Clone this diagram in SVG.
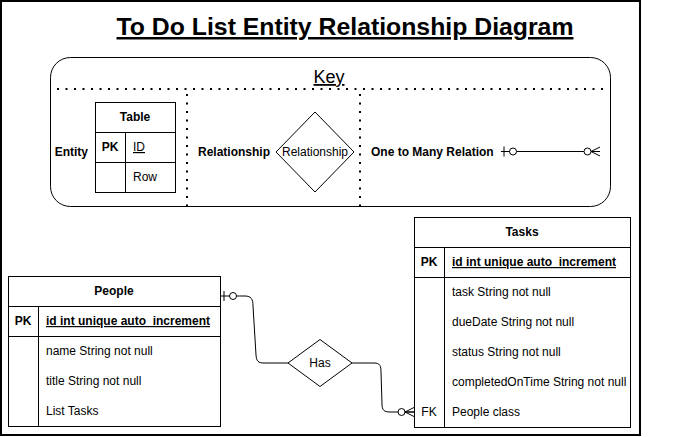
<svg xmlns="http://www.w3.org/2000/svg" width="681" height="437" viewBox="0 0 681 437">
<style>
text{font-family:"Liberation Sans",Arial,sans-serif;font-size:12px;fill:#000}
.b{font-weight:bold}
.u{text-decoration:underline}
.m{text-anchor:middle}
.e{text-anchor:end}
.box{fill:#fff;stroke:#000;stroke-width:1}
.ln{fill:none;stroke:#000;stroke-width:1}
.dot{fill:none;stroke:#000;stroke-width:2;stroke-dasharray:2 6.5}
.edge{fill:none;stroke:#000;stroke-width:1}
</style>
<defs>
<marker id="zeroOne" markerUnits="userSpaceOnUse" refX="0" refY="0" markerWidth="20" markerHeight="20" orient="auto" overflow="visible">
<path d="M3,-5 V5" stroke="#000" stroke-width="1" fill="none"/>
<circle cx="12" cy="0" r="3.5" fill="#fff" stroke="#000" stroke-width="1"/>
</marker>
<marker id="zeroMany" markerUnits="userSpaceOnUse" refX="0" refY="0" markerWidth="20" markerHeight="20" orient="auto" overflow="visible">
<path d="M-9,0 L0,-4.5 M-9,0 L0,0 M-9,0 L0,4.5" stroke="#000" stroke-width="1" fill="none"/>
<circle cx="-12.5" cy="0" r="3.5" fill="#fff" stroke="#000" stroke-width="1"/>
</marker>
</defs>
<rect x="1" y="1" width="639" height="434" fill="#fff" stroke="#000" stroke-width="2"/>
<g id="title">
<text x="345" y="35" class="b u m" style="font-size:24.8px">To Do List Entity Relationship Diagram</text>
</g>
<g id="key">
<rect x="50.5" y="57.5" width="560" height="149" rx="20" ry="20" class="box"/>
<text x="329" y="83" class="u m" style="font-size:18px">Key</text>
<path d="M57,89 H606" class="dot"/>
<path d="M187,94 V206" class="dot"/>
<path d="M360,94 V206" class="dot"/>
<text x="88" y="156" class="b e">Entity</text>
<g id="key-table">
<rect x="95.5" y="102.5" width="80" height="90" class="box"/>
<path d="M95.5,132.5 H175.5 M95.5,162.5 H175.5 M125.5,132.5 V192.5" class="ln"/>
<text x="135" y="121" class="b m">Table</text>
<text x="110" y="151" class="b m">PK</text>
<text x="133" y="151" class="u">ID</text>
<text x="133" y="181">Row</text>
</g>
<text x="198" y="156" class="b">Relationship</text>
<g id="key-relationship">
<polygon points="276,152 315,112 354,152 315,192" class="box"/>
<text x="315" y="156" class="m">Relationship</text>
</g>
<text x="371" y="156" class="b">One to Many Relation</text>
<path d="M501,151.5 H600" class="edge" marker-start="url(#zeroOne)" marker-end="url(#zeroMany)"/>
</g>
<g id="people">
<rect x="8.5" y="276.5" width="212" height="150" class="box"/>
<path d="M8.5,306.5 H220.5 M8.5,336.5 H220.5 M38.5,306.5 V426.5" class="ln"/>
<text x="114" y="295" class="b m">People</text>
<text x="23" y="325" class="b m">PK</text>
<text x="46" y="325" class="b u">id int unique auto_increment</text>
<text x="46" y="355">name String not null</text>
<text x="46" y="385">title String not null</text>
<text x="46" y="415">List Tasks</text>
</g>
<g id="tasks">
<rect x="414.5" y="217.5" width="216" height="210" class="box"/>
<path d="M414.5,247.5 H630.5 M414.5,277.5 H630.5 M444.5,247.5 V427.5" class="ln"/>
<text x="522" y="236" class="b m">Tasks</text>
<text x="429" y="266" class="b m">PK</text>
<text x="452" y="266" class="b u">id int unique auto_increment</text>
<text x="452" y="296">task String not null</text>
<text x="452" y="326">dueDate String not null</text>
<text x="452" y="356">status String not null</text>
<text x="452" y="386">completedOnTime String not null</text>
<text x="429" y="416" class="m">FK</text>
<text x="452" y="416">People class</text>
</g>
<g id="has">
<polygon points="288,363 320,339.5 352,363 320,386.5" class="box"/>
<text x="320" y="367" class="m">Has</text>
</g>
<g id="connectors">
<path d="M221,296 H245 C251,296 253,299 253,306 L256,355 C256.5,361 258,363 264,363 H288" class="edge" marker-start="url(#zeroOne)"/>
<path d="M352,363 H374 C380,363 381,366 381,372 L382,404 C382,410 384,412 390,412 H414" class="edge" marker-end="url(#zeroMany)"/>
</g>
</svg>
